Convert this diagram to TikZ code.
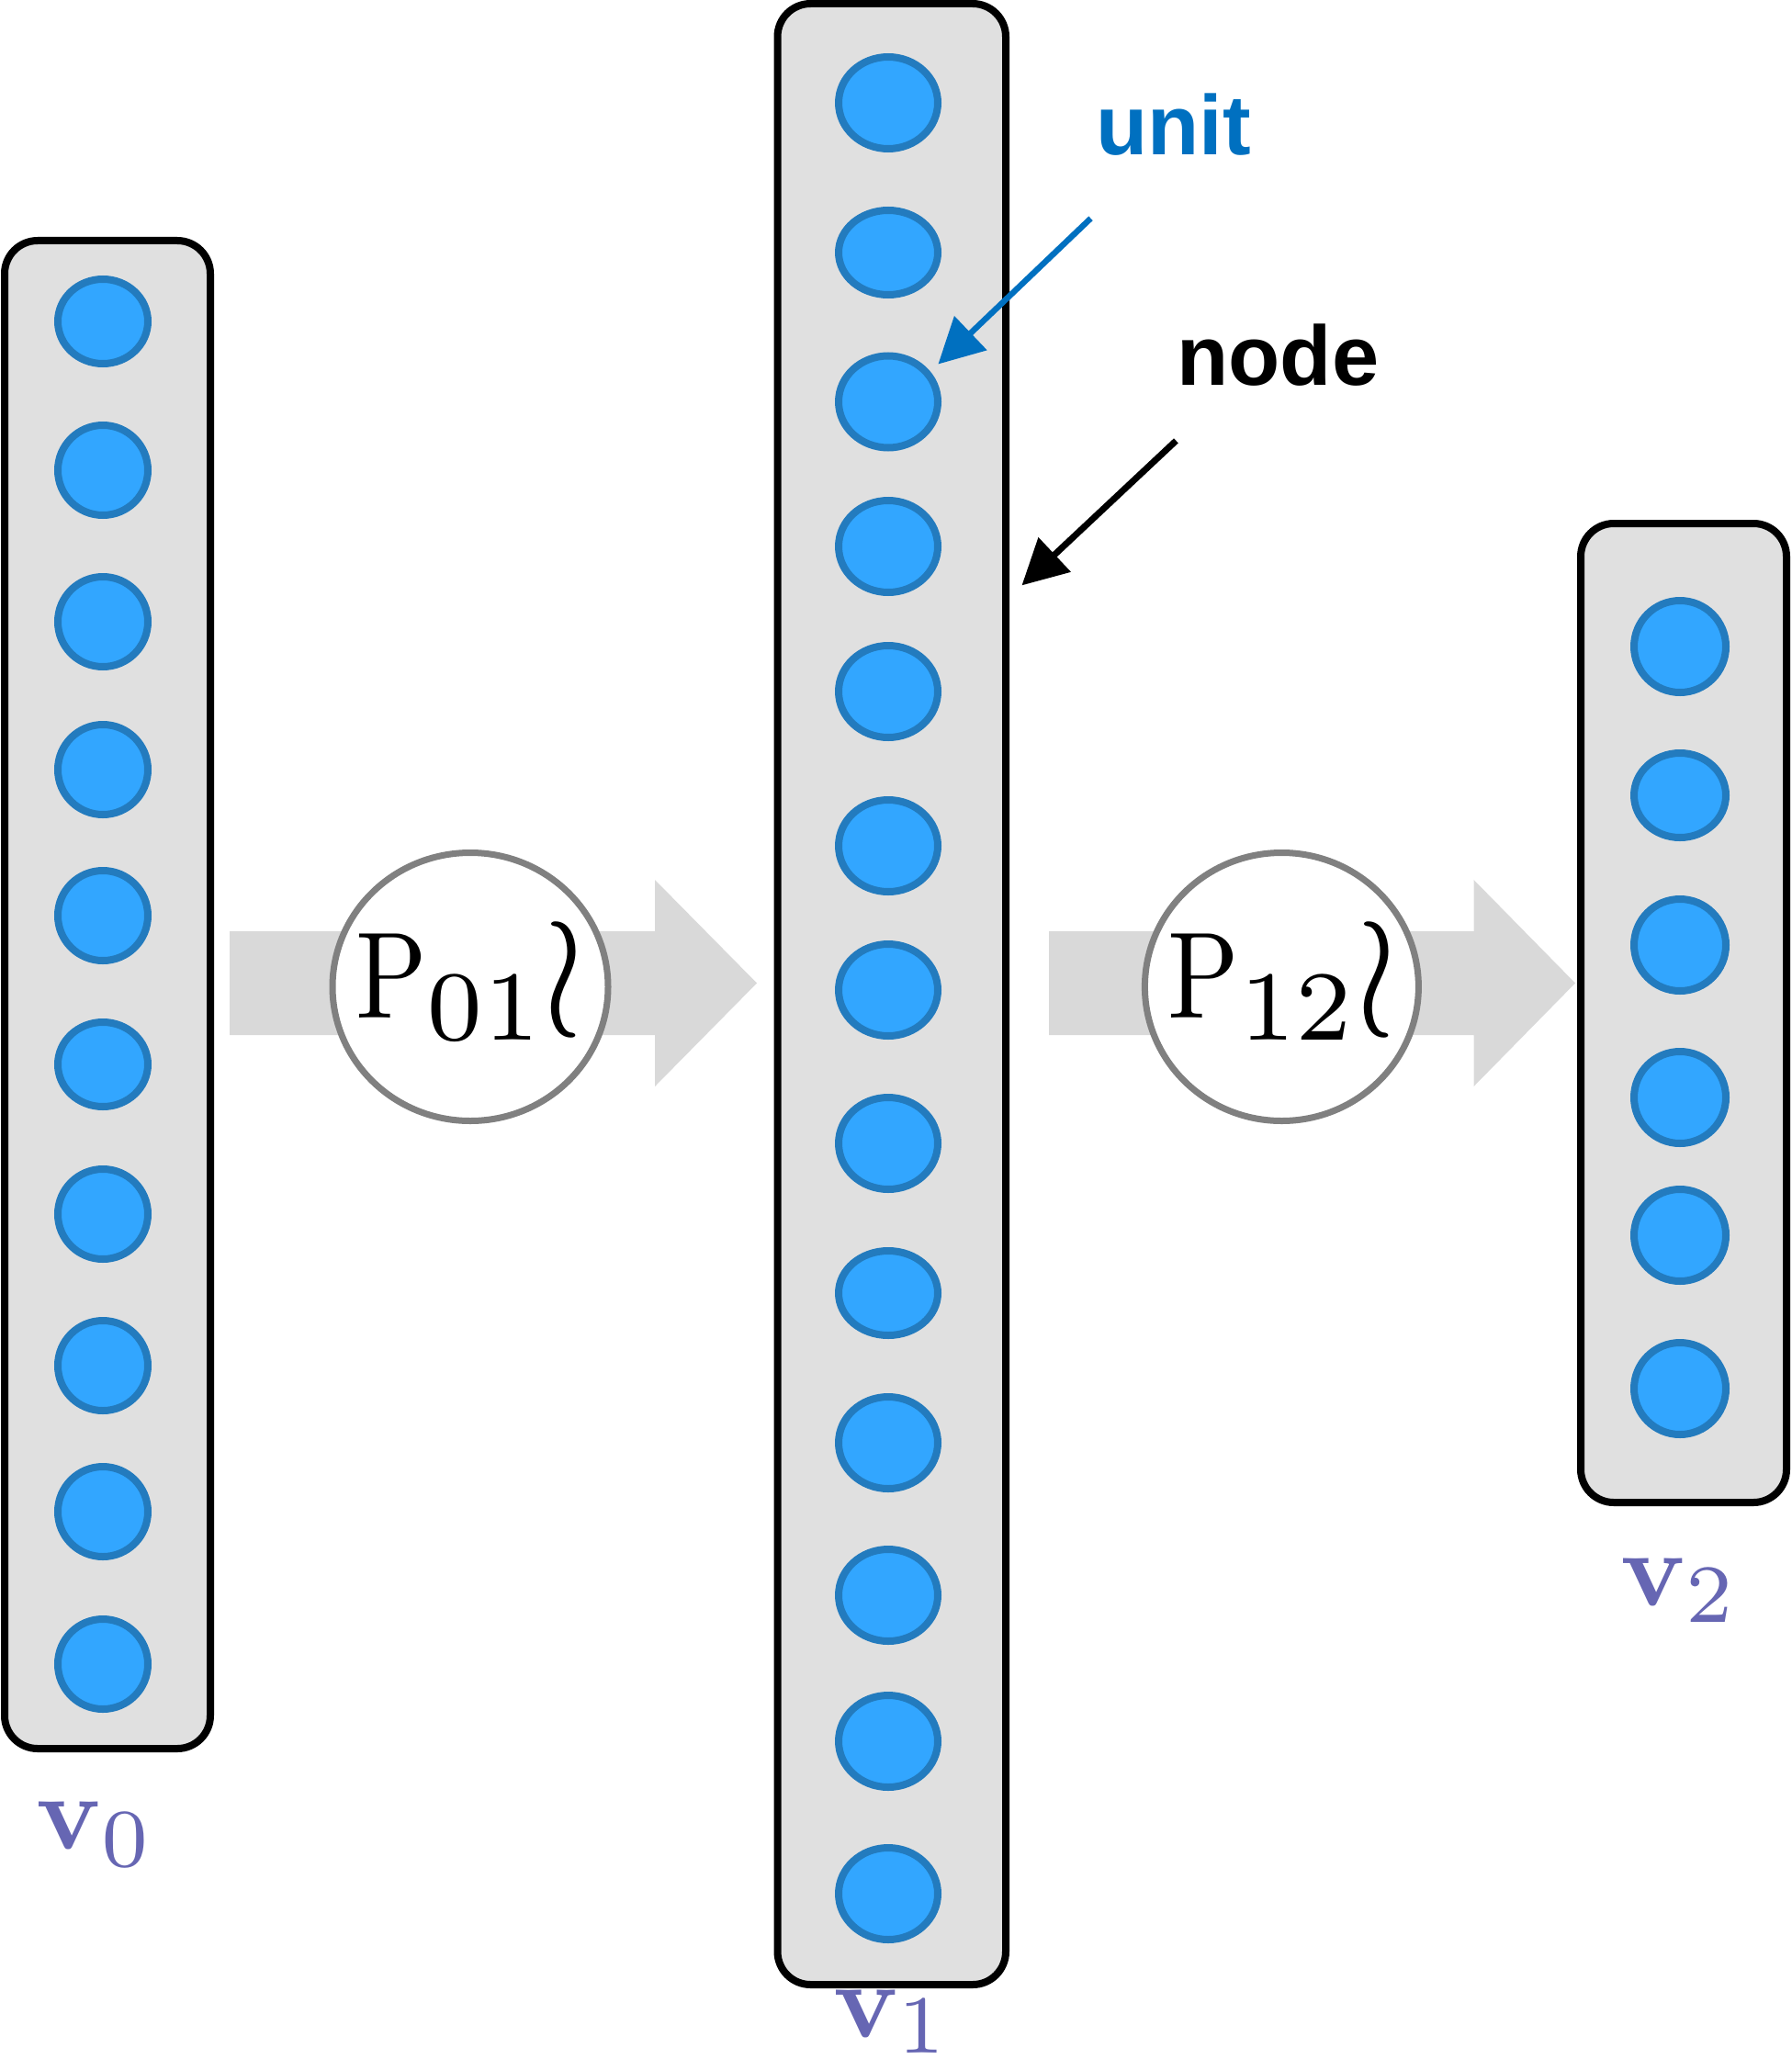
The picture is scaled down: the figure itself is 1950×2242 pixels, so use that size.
\documentclass[tikz,border=0pt]{standalone}
\usepackage{graphicx}
\usepackage{fontspec}
\newfontfamily\lsans{Liberation Sans}
\newfontfamily\lmten{lmroman10-regular}[Extension=.otf]
\newfontfamily\lmbold{lmroman10-bold}[Extension=.otf]
\newfontfamily\lmseven{lmroman7-regular}[Extension=.otf]
\usetikzlibrary{shapes.geometric,arrows.meta}
\definecolor{boxfill}{RGB}{224,224,224}
\definecolor{unitfill}{RGB}{50,166,255}
\definecolor{unitborder}{RGB}{35,123,190}
\definecolor{arrowgray}{RGB}{217,217,217}
\definecolor{circgray}{RGB}{128,128,128}
\definecolor{labpurple}{RGB}{102,102,179}
\definecolor{unitblue}{RGB}{0,112,192}
\newcommand{\plabel}[1]{\scalebox{0.85}[1]{\lmten\fontsize{67pt}{67pt}\selectfont P}\raisebox{-12pt}{\lmseven\fontsize{54pt}{54pt}\selectfont #1}\hspace{2pt}\raisebox{-3pt}{\scalebox{8}[9.5]{$\wr$}}}
\newcommand{\vlab}[2]{{\lmbold\fontsize{58pt}{58pt}\selectfont v}\raisebox{-#2}{\lmseven\fontsize{45pt}{45pt}\selectfont #1}}
\begin{document}
\begin{tikzpicture}[x=0.5pt,y=-0.5pt,
  vecbox/.style={draw=black, fill=boxfill, line width=4pt, rounded corners=18pt, inner sep=0pt, outer sep=0pt},
  unitst/.style={ellipse, draw=unitborder, fill=unitfill, line width=4pt, inner sep=0pt, outer sep=0pt},
  pcircle/.style={ellipse, draw=circgray, fill=white, line width=3.5pt, inner sep=0pt},
  ptext/.style={anchor=base west, inner sep=0pt, text=black},
  veclab/.style={anchor=base west, inner sep=0pt, text=labpurple},
  callout/.style={anchor=base west, inner sep=0pt, font={\lsans\bfseries\fontsize{46pt}{46pt}\selectfont}}
]
\useasboundingbox (0,0) rectangle (1950,2242);
% boxes
\node[vecbox, minimum width=112pt, minimum height=821pt] (v0) at (117,1083) {};
\node[vecbox, minimum width=124.25pt, minimum height=1078.5pt] (v1) at (970.75,1082.5) {};
\node[vecbox, minimum width=112pt, minimum height=533pt] (v2) at (1833,1103) {};
% units
\foreach \y/\h [count=\i] in {350/46,512/49,677/49,838/49,997/49,1159/46,1322/49,1487/49,1646/49,1812/49}
  \node[unitst, minimum width=49pt, minimum height=\h pt] (v0u\i) at (112,\y) {};
\foreach \y/\h [count=\i] in {112/50,275/46,437.5/50,595/50,753/50,921/50,1078/50,1245/50,1408/46,1571/50,1737/50,1896/50,2062/50}
  \node[unitst, minimum width=54pt, minimum height=\h pt] (v1u\i) at (967,\y) {};
\foreach \y/\h [count=\i] in {704/50,866/46,1029/50,1195/50,1345/50,1512/50}
  \node[unitst, minimum width=50pt, minimum height=\h pt] (v2u\i) at (1829,\y) {};
% gray arrows
\fill[arrowgray] (250,1014) -- (713,1014) -- (713,958) -- (824,1070.5) -- (713,1183) -- (713,1127) -- (250,1127) -- cycle;
\fill[arrowgray] (1142,1014) -- (1604.5,1014) -- (1604.5,958) -- (1715,1070.5) -- (1604.5,1183) -- (1604.5,1127) -- (1142,1127) -- cycle;
% circles
\node[pcircle, minimum width=150pt, minimum height=146pt] (p01) at (512,1074.5) {};
\node[pcircle, minimum width=149pt, minimum height=146pt] (p12) at (1395.4,1074.5) {};
\node[ptext] (p01t) at (387,1108) {\plabel{01}};
\node[ptext] (p12t) at (1271.5,1108) {\plabel{12}};
% labels
\node[veclab] (lv0) at (39.4,2013.3) {\vlab{0}{9.5pt}};
\node[veclab] (lv1) at (906.7,2218) {\vlab{1}{8.5pt}};
\node[veclab] (lv2) at (1764.4,1748.3) {\vlab{2}{9.2pt}};
% callouts
\node[callout, text=unitblue] (unitlab) at (1193,169) {unit};
\node[callout, text=black] (nodelab) at (1281,419) {node};
\coordinate (ua) at (1187.5,237.8);
\coordinate (ub) at (1021.4,396.5);
\coordinate (na) at (1280.4,479.9);
\coordinate (nb) at (1112.5,637.4);
\draw[unitblue, line width=3.2pt, -{Triangle[length=24.5pt,width=25pt]}] (ua) -- (ub);
\draw[black, line width=3.5pt, -{Triangle[length=24.5pt,width=25pt]}] (na) -- (nb);
\end{tikzpicture}
\end{document}
